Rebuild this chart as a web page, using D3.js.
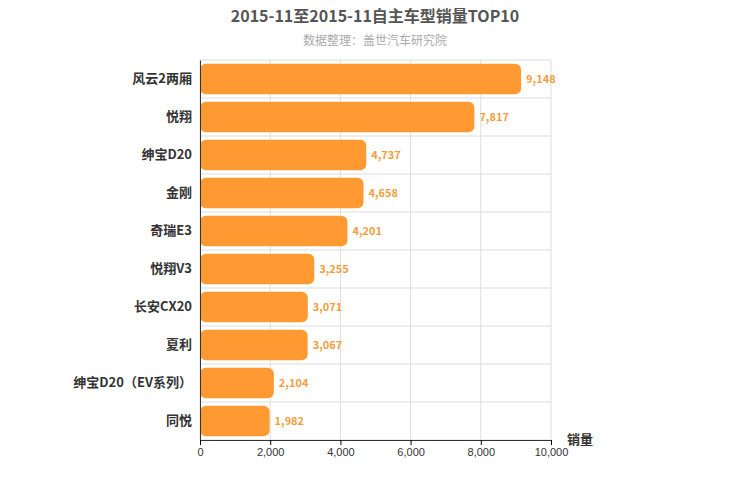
<!DOCTYPE html>
<html><head><meta charset="utf-8">
<script src="https://cdn.jsdelivr.net/npm/d3@7"></script>
<style>body{margin:0;background:#fff;font-family:"Noto Sans CJK SC","Noto Sans",sans-serif}</style>
</head><body>
<script>
// chart data
var models = ["风云2两厢","悦翔","绅宝D20","金刚","奇瑞E3","悦翔V3","长安CX20","夏利","绅宝D20（EV系列）","同悦"];
var sales = [9148,7817,4737,4658,4201,3255,3071,3067,2104,1982];
var ticks = [0,2000,4000,6000,8000,10000];

var W = 750, H = 500, padL = 200, padR = 551, padT = 60, padB = 440;
var svg = d3.select("body").append("svg").attr("width",W).attr("height",H);

var x = d3.scaleLinear().domain([0,10000]).range([padL,padR]);
var y = d3.scaleBand().domain(models).range([padT,padB]).paddingInner(0.2).paddingOuter(0.1);

// grid
svg.selectAll("line.v").data(ticks).enter().append("line")
  .attr("x1",function(d){return x(d);}).attr("x2",function(d){return x(d);})
  .attr("y1",padT).attr("y2",padB).style("stroke","#ddd");
var step = (padB-padT)/models.length;
svg.selectAll("line.h").data(d3.range(models.length+1)).enter().append("line")
  .attr("x1",padL).attr("x2",padR)
  .attr("y1",function(i){return padT+i*step;}).attr("y2",function(i){return padT+i*step;})
  .style("stroke","#ddd");

// bars
svg.selectAll("rect.bar").data(sales).enter().append("rect")
  .attr("x",x(0)).attr("y",function(d,i){return y(models[i]);})
  .attr("width",function(d){return x(d)-x(0);}).attr("height",y.bandwidth())
  .attr("rx",6).style("fill","#ff9a33");

svg.selectAll("text.val").data(sales).enter().append("text")
  .attr("x",function(d){return x(d)+5;}).attr("y",function(d,i){return y(models[i])+y.bandwidth()/2+4;})
  .text(function(d){return d3.format(",")(d);})
  .style("font-size","11px").style("font-weight","bold").style("fill","#f0a040");

// axes
var ya = svg.append("g").attr("transform","translate("+padL+",0)").call(d3.axisLeft(y).tickSize(0).tickPadding(8));
ya.select(".domain").style("stroke","#333");
ya.selectAll("text").style("font-size","13px").style("font-weight","bold").style("fill","#333")
  .style("font-family","'Noto Sans CJK SC',sans-serif");
var xa = svg.append("g").attr("transform","translate(0,"+padB+")")
  .call(d3.axisBottom(x).tickValues(ticks).tickFormat(d3.format(",")).tickSize(5));
xa.select(".domain").style("stroke","#333");
xa.selectAll("text").style("font-size","11px").style("fill","#333");

svg.append("text").attr("x",580).attr("y",444).attr("text-anchor","middle")
  .text("销量").style("font-size","13px").style("font-weight","bold").style("fill","#333");

svg.append("text").attr("x",375).attr("y",22).attr("text-anchor","middle")
  .text("2015-11至2015-11自主车型销量TOP10").style("font-size","16px").style("font-weight","bold").style("fill","#555");
svg.append("text").attr("x",375).attr("y",45).attr("text-anchor","middle")
  .text("数据整理：盖世汽车研究院").style("font-size","12px").style("fill","#aaa");
</script>
</body></html>
